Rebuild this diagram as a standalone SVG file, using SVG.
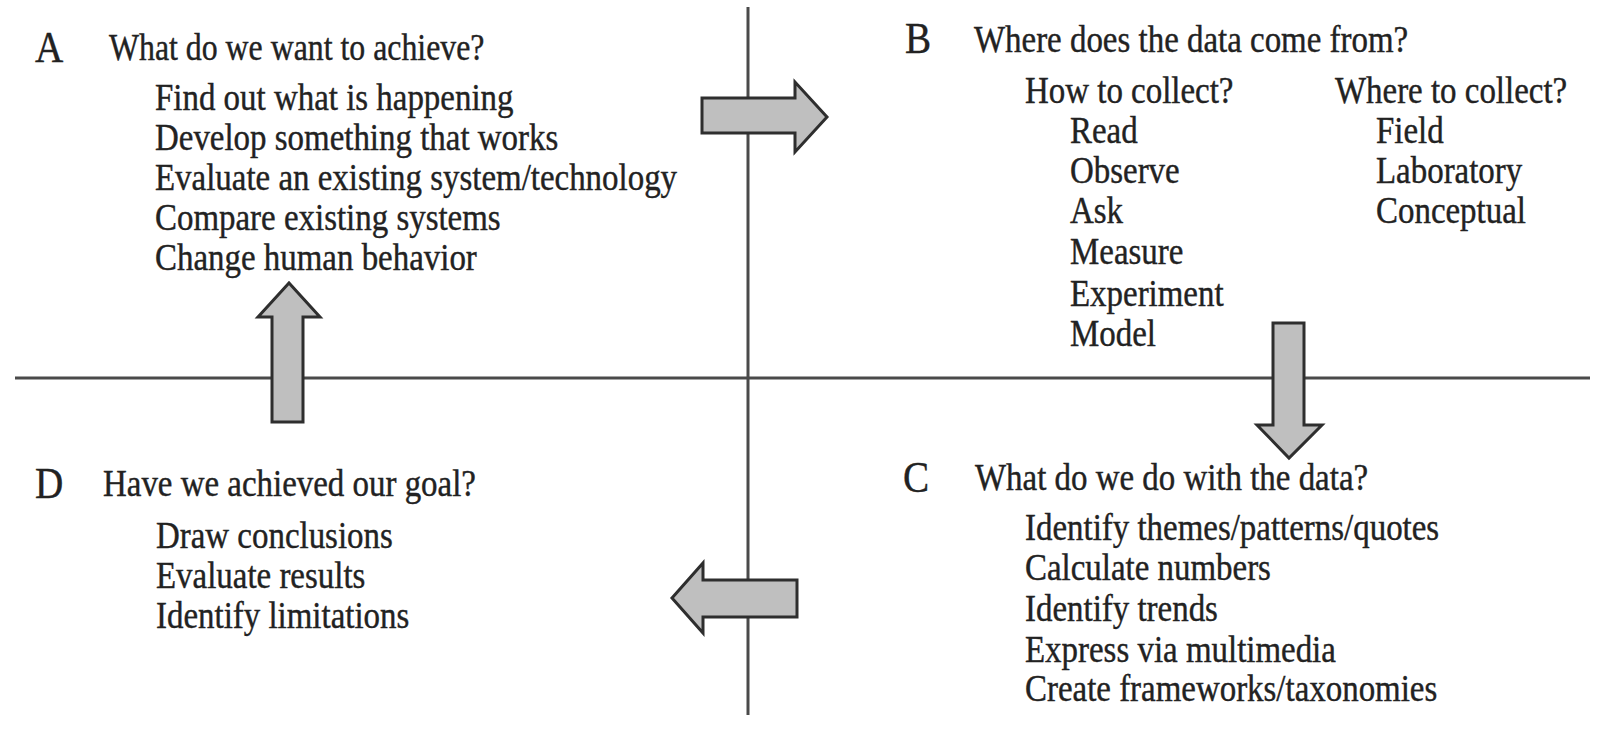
<svg xmlns="http://www.w3.org/2000/svg" width="1602" height="732" viewBox="0 0 1602 732">
<style>
text { font-family: "Liberation Serif", "Times New Roman", serif; fill: #222; stroke: #222; stroke-width: 0.4px; }
.t { font-size: 37px; }
.L { font-size: 44px; }
.axis { stroke: #4a4a4a; stroke-width: 3; fill: none; }
.arrow { fill: #bfbfbf; stroke: #2e2e2e; stroke-width: 3; stroke-linejoin: miter; }
</style>
<rect width="1602" height="732" fill="#fff"/>
<g id="connectors">
  <line class="axis" x1="748" y1="7" x2="748" y2="715"/>
  <line class="axis" x1="15" y1="378" x2="1590" y2="378"/>
  <path class="arrow" d="M702,98 L795,98 L795,82 L827,117 L795,152 L795,133 L702,133 Z"/>
  <path class="arrow" d="M1273,323 L1304,323 L1304,425 L1322,425 L1289,458 L1257,425 L1273,425 Z"/>
  <path class="arrow" d="M797,580 L703,580 L703,563 L672,598 L703,633 L703,617 L797,617 Z"/>
  <path class="arrow" d="M272,422 L272,317 L258,317 L289,283 L320,317 L303,317 L303,422 Z"/>
</g>
<g id="A">
  <text class="L" transform="translate(35,62) scale(0.89,1)">A</text>
  <text class="t" transform="translate(109,60) scale(0.86,1)">What do we want to achieve?</text>
  <text class="t" transform="translate(155,110) scale(0.89,1)">Find out what is happening</text>
  <text class="t" transform="translate(155,150) scale(0.89,1)">Develop something that works</text>
  <text class="t" transform="translate(155,190) scale(0.89,1)">Evaluate an existing system/technology</text>
  <text class="t" transform="translate(155,230) scale(0.89,1)">Compare existing systems</text>
  <text class="t" transform="translate(155,270) scale(0.89,1)">Change human behavior</text>
</g>
<g id="B">
  <text class="L" transform="translate(905,53) scale(0.89,1)">B</text>
  <text class="t" transform="translate(974,52) scale(0.89,1)">Where does the data come from?</text>
  <text class="t" transform="translate(1025,103) scale(0.89,1)">How to collect?</text>
  <text class="t" transform="translate(1070,143) scale(0.89,1)">Read</text>
  <text class="t" transform="translate(1070,183) scale(0.89,1)">Observe</text>
  <text class="t" transform="translate(1070,223) scale(0.89,1)">Ask</text>
  <text class="t" transform="translate(1070,264) scale(0.89,1)">Measure</text>
  <text class="t" transform="translate(1070,306) scale(0.89,1)">Experiment</text>
  <text class="t" transform="translate(1070,346) scale(0.89,1)">Model</text>
  <text class="t" transform="translate(1335,103) scale(0.89,1)">Where to collect?</text>
  <text class="t" transform="translate(1376,143) scale(0.89,1)">Field</text>
  <text class="t" transform="translate(1376,183) scale(0.89,1)">Laboratory</text>
  <text class="t" transform="translate(1376,223) scale(0.89,1)">Conceptual</text>
</g>
<g id="C">
  <text class="L" transform="translate(903,492) scale(0.89,1)">C</text>
  <text class="t" transform="translate(975,490) scale(0.89,1)">What do we do with the data?</text>
  <text class="t" transform="translate(1025,540) scale(0.89,1)">Identify themes/patterns/quotes</text>
  <text class="t" transform="translate(1025,580) scale(0.89,1)">Calculate numbers</text>
  <text class="t" transform="translate(1025,621) scale(0.89,1)">Identify trends</text>
  <text class="t" transform="translate(1025,662) scale(0.89,1)">Express via multimedia</text>
  <text class="t" transform="translate(1025,701) scale(0.89,1)">Create frameworks/taxonomies</text>
</g>
<g id="D">
  <text class="L" transform="translate(35,498) scale(0.89,1)">D</text>
  <text class="t" transform="translate(103,496) scale(0.89,1)">Have we achieved our goal?</text>
  <text class="t" transform="translate(156,548) scale(0.89,1)">Draw conclusions</text>
  <text class="t" transform="translate(156,588) scale(0.89,1)">Evaluate results</text>
  <text class="t" transform="translate(156,628) scale(0.89,1)">Identify limitations</text>
</g>
</svg>
